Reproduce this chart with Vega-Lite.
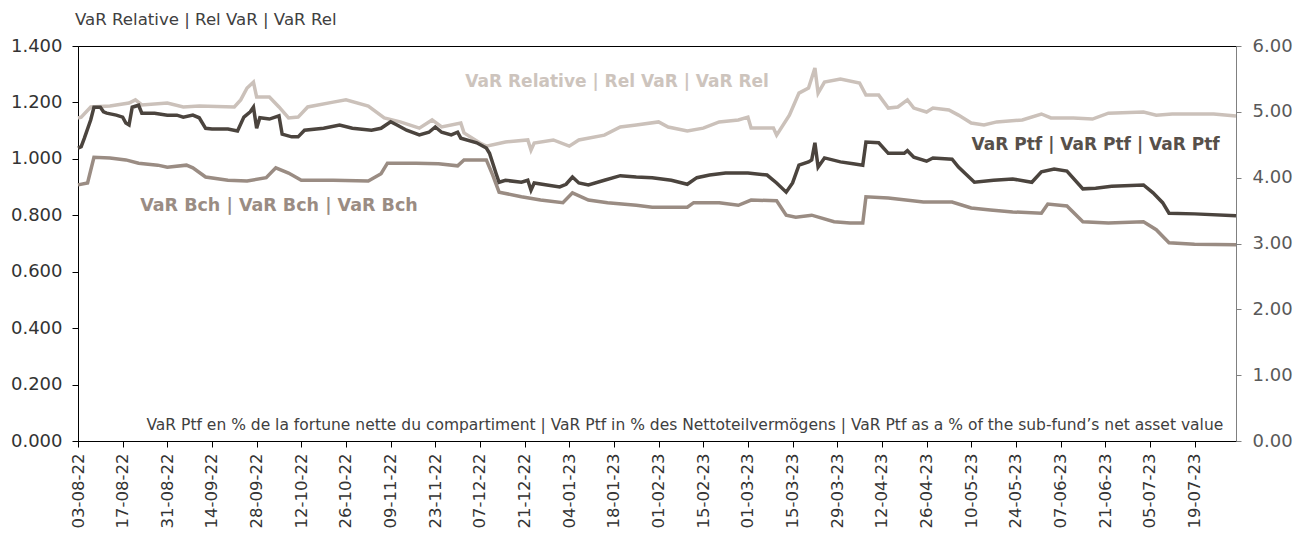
{
  "$schema": "https://vega.github.io/schema/vega-lite/v6.json",
  "width": 1158,
  "height": 395,
  "autosize": "none",
  "padding": {"left": 78, "top": 46, "right": 59, "bottom": 94},
  "background": "#ffffff",
  "title": {"text": "VaR Relative | Rel VaR | VaR Rel", "anchor": "start", "frame": "group", "font": "DejaVu Sans", "fontSize": 16.6, "fontWeight": "normal", "color": "#404040", "offset": 8, "dx": -3},
  "config": {"view": {"stroke": "#000000", "strokeWidth": 1}, "font": "DejaVu Sans", "axis": {"grid": false}},
  "datasets": {
    "ptf": [
      {"date":"2022-08-03","v":4.45},{"date":"2022-08-04","v":4.47},{"date":"2022-08-05","v":4.60},{"date":"2022-08-07","v":4.88},{"date":"2022-08-08","v":5.07},{"date":"2022-08-10","v":5.07},{"date":"2022-08-11","v":5.00},{"date":"2022-08-12","v":4.98},{"date":"2022-08-15","v":4.95},{"date":"2022-08-17","v":4.92},{"date":"2022-08-18","v":4.83},{"date":"2022-08-19","v":4.80},{"date":"2022-08-20","v":5.07},{"date":"2022-08-22","v":5.10},{"date":"2022-08-23","v":4.98},{"date":"2022-08-27","v":4.98},{"date":"2022-08-31","v":4.95},{"date":"2022-09-03","v":4.95},{"date":"2022-09-05","v":4.92},{"date":"2022-09-08","v":4.95},{"date":"2022-09-10","v":4.91},{"date":"2022-09-12","v":4.75},{"date":"2022-09-14","v":4.74},{"date":"2022-09-19","v":4.74},{"date":"2022-09-22","v":4.71},{"date":"2022-09-24","v":4.92},{"date":"2022-09-26","v":5.00},{"date":"2022-09-27","v":5.07},{"date":"2022-09-28","v":4.75},{"date":"2022-09-29","v":4.91},{"date":"2022-10-02","v":4.89},{"date":"2022-10-05","v":4.94},{"date":"2022-10-06","v":4.66},{"date":"2022-10-09","v":4.62},{"date":"2022-10-11","v":4.62},{"date":"2022-10-13","v":4.72},{"date":"2022-10-19","v":4.75},{"date":"2022-10-24","v":4.80},{"date":"2022-10-28","v":4.75},{"date":"2022-11-03","v":4.72},{"date":"2022-11-06","v":4.75},{"date":"2022-11-09","v":4.85},{"date":"2022-11-11","v":4.80},{"date":"2022-11-14","v":4.72},{"date":"2022-11-18","v":4.65},{"date":"2022-11-21","v":4.69},{"date":"2022-11-23","v":4.77},{"date":"2022-11-25","v":4.69},{"date":"2022-11-28","v":4.65},{"date":"2022-11-30","v":4.69},{"date":"2022-12-01","v":4.60},{"date":"2022-12-06","v":4.53},{"date":"2022-12-09","v":4.45},{"date":"2022-12-10","v":4.37},{"date":"2022-12-12","v":4.07},{"date":"2022-12-13","v":3.93},{"date":"2022-12-15","v":3.96},{"date":"2022-12-20","v":3.93},{"date":"2022-12-22","v":3.96},{"date":"2022-12-23","v":3.81},{"date":"2022-12-24","v":3.92},{"date":"2022-12-28","v":3.89},{"date":"2023-01-01","v":3.86},{"date":"2023-01-03","v":3.90},{"date":"2023-01-05","v":4.01},{"date":"2023-01-07","v":3.92},{"date":"2023-01-10","v":3.89},{"date":"2023-01-15","v":3.96},{"date":"2023-01-20","v":4.03},{"date":"2023-01-25","v":4.01},{"date":"2023-01-30","v":4.00},{"date":"2023-02-05","v":3.96},{"date":"2023-02-10","v":3.90},{"date":"2023-02-13","v":4.00},{"date":"2023-02-17","v":4.04},{"date":"2023-02-22","v":4.07},{"date":"2023-03-01","v":4.07},{"date":"2023-03-07","v":4.04},{"date":"2023-03-10","v":3.92},{"date":"2023-03-13","v":3.78},{"date":"2023-03-15","v":3.92},{"date":"2023-03-17","v":4.19},{"date":"2023-03-20","v":4.24},{"date":"2023-03-21","v":4.27},{"date":"2023-03-22","v":4.53},{"date":"2023-03-23","v":4.16},{"date":"2023-03-25","v":4.30},{"date":"2023-03-30","v":4.24},{"date":"2023-04-03","v":4.21},{"date":"2023-04-06","v":4.19},{"date":"2023-04-07","v":4.54},{"date":"2023-04-11","v":4.53},{"date":"2023-04-14","v":4.37},{"date":"2023-04-19","v":4.37},{"date":"2023-04-20","v":4.41},{"date":"2023-04-22","v":4.31},{"date":"2023-04-26","v":4.25},{"date":"2023-04-28","v":4.30},{"date":"2023-05-04","v":4.28},{"date":"2023-05-06","v":4.16},{"date":"2023-05-11","v":3.93},{"date":"2023-05-17","v":3.96},{"date":"2023-05-23","v":3.98},{"date":"2023-05-29","v":3.93},{"date":"2023-06-01","v":4.09},{"date":"2023-06-05","v":4.13},{"date":"2023-06-09","v":4.10},{"date":"2023-06-14","v":3.83},{"date":"2023-06-18","v":3.84},{"date":"2023-06-23","v":3.87},{"date":"2023-07-03","v":3.89},{"date":"2023-07-06","v":3.77},{"date":"2023-07-09","v":3.62},{"date":"2023-07-11","v":3.46},{"date":"2023-07-19","v":3.45},{"date":"2023-08-01","v":3.42}
    ],
    "bch": [
      {"date":"2022-08-03","v":3.89},{"date":"2022-08-06","v":3.92},{"date":"2022-08-08","v":4.31},{"date":"2022-08-13","v":4.30},{"date":"2022-08-18","v":4.27},{"date":"2022-08-22","v":4.22},{"date":"2022-08-28","v":4.19},{"date":"2022-08-31","v":4.16},{"date":"2022-09-06","v":4.19},{"date":"2022-09-08","v":4.15},{"date":"2022-09-12","v":4.01},{"date":"2022-09-19","v":3.96},{"date":"2022-09-25","v":3.95},{"date":"2022-10-01","v":4.00},{"date":"2022-10-04","v":4.15},{"date":"2022-10-08","v":4.07},{"date":"2022-10-12","v":3.96},{"date":"2022-10-22","v":3.96},{"date":"2022-11-02","v":3.95},{"date":"2022-11-06","v":4.06},{"date":"2022-11-08","v":4.22},{"date":"2022-11-17","v":4.22},{"date":"2022-11-24","v":4.21},{"date":"2022-11-30","v":4.18},{"date":"2022-12-02","v":4.27},{"date":"2022-12-09","v":4.27},{"date":"2022-12-11","v":4.04},{"date":"2022-12-13","v":3.78},{"date":"2022-12-20","v":3.71},{"date":"2022-12-26","v":3.66},{"date":"2023-01-02","v":3.62},{"date":"2023-01-05","v":3.77},{"date":"2023-01-10","v":3.66},{"date":"2023-01-16","v":3.62},{"date":"2023-01-25","v":3.58},{"date":"2023-01-30","v":3.55},{"date":"2023-02-10","v":3.55},{"date":"2023-02-12","v":3.62},{"date":"2023-02-20","v":3.62},{"date":"2023-02-26","v":3.58},{"date":"2023-03-02","v":3.66},{"date":"2023-03-10","v":3.65},{"date":"2023-03-13","v":3.43},{"date":"2023-03-16","v":3.40},{"date":"2023-03-21","v":3.43},{"date":"2023-03-28","v":3.33},{"date":"2023-04-02","v":3.31},{"date":"2023-04-06","v":3.31},{"date":"2023-04-07","v":3.71},{"date":"2023-04-14","v":3.69},{"date":"2023-04-25","v":3.63},{"date":"2023-05-04","v":3.63},{"date":"2023-05-10","v":3.54},{"date":"2023-05-16","v":3.51},{"date":"2023-05-23","v":3.48},{"date":"2023-06-01","v":3.46},{"date":"2023-06-03","v":3.60},{"date":"2023-06-09","v":3.57},{"date":"2023-06-14","v":3.33},{"date":"2023-06-22","v":3.31},{"date":"2023-07-03","v":3.33},{"date":"2023-07-07","v":3.21},{"date":"2023-07-11","v":3.01},{"date":"2023-07-19","v":2.99},{"date":"2023-08-01","v":2.98}
    ],
    "rel": [
      {"date":"2022-08-03","v":1.145},{"date":"2022-08-04","v":1.148},{"date":"2022-08-07","v":1.184},{"date":"2022-08-13","v":1.187},{"date":"2022-08-19","v":1.198},{"date":"2022-08-21","v":1.209},{"date":"2022-08-23","v":1.191},{"date":"2022-08-31","v":1.198},{"date":"2022-09-05","v":1.184},{"date":"2022-09-10","v":1.187},{"date":"2022-09-21","v":1.184},{"date":"2022-09-23","v":1.209},{"date":"2022-09-25","v":1.251},{"date":"2022-09-27","v":1.272},{"date":"2022-09-28","v":1.219},{"date":"2022-10-02","v":1.219},{"date":"2022-10-05","v":1.184},{"date":"2022-10-08","v":1.145},{"date":"2022-10-11","v":1.148},{"date":"2022-10-14","v":1.184},{"date":"2022-10-22","v":1.201},{"date":"2022-10-26","v":1.209},{"date":"2022-11-02","v":1.187},{"date":"2022-11-07","v":1.145},{"date":"2022-11-12","v":1.131},{"date":"2022-11-18","v":1.109},{"date":"2022-11-22","v":1.138},{"date":"2022-11-25","v":1.113},{"date":"2022-12-01","v":1.127},{"date":"2022-12-02","v":1.092},{"date":"2022-12-07","v":1.056},{"date":"2022-12-09","v":1.045},{"date":"2022-12-15","v":1.060},{"date":"2022-12-22","v":1.067},{"date":"2022-12-23","v":1.031},{"date":"2022-12-24","v":1.056},{"date":"2022-12-30","v":1.067},{"date":"2023-01-04","v":1.045},{"date":"2023-01-07","v":1.067},{"date":"2023-01-15","v":1.084},{"date":"2023-01-20","v":1.113},{"date":"2023-01-25","v":1.120},{"date":"2023-02-01","v":1.131},{"date":"2023-02-04","v":1.113},{"date":"2023-02-10","v":1.099},{"date":"2023-02-15","v":1.109},{"date":"2023-02-20","v":1.131},{"date":"2023-02-26","v":1.138},{"date":"2023-03-01","v":1.148},{"date":"2023-03-02","v":1.109},{"date":"2023-03-09","v":1.109},{"date":"2023-03-10","v":1.084},{"date":"2023-03-14","v":1.155},{"date":"2023-03-17","v":1.233},{"date":"2023-03-20","v":1.251},{"date":"2023-03-22","v":1.322},{"date":"2023-03-23","v":1.233},{"date":"2023-03-25","v":1.272},{"date":"2023-03-30","v":1.283},{"date":"2023-04-05","v":1.269},{"date":"2023-04-07","v":1.226},{"date":"2023-04-11","v":1.226},{"date":"2023-04-14","v":1.180},{"date":"2023-04-17","v":1.184},{"date":"2023-04-20","v":1.209},{"date":"2023-04-22","v":1.180},{"date":"2023-04-26","v":1.166},{"date":"2023-04-28","v":1.180},{"date":"2023-05-03","v":1.173},{"date":"2023-05-06","v":1.155},{"date":"2023-05-10","v":1.127},{"date":"2023-05-14","v":1.120},{"date":"2023-05-18","v":1.131},{"date":"2023-05-26","v":1.138},{"date":"2023-06-01","v":1.159},{"date":"2023-06-04","v":1.145},{"date":"2023-06-11","v":1.145},{"date":"2023-06-17","v":1.141},{"date":"2023-06-22","v":1.162},{"date":"2023-07-03","v":1.166},{"date":"2023-07-07","v":1.155},{"date":"2023-07-12","v":1.159},{"date":"2023-07-25","v":1.159},{"date":"2023-08-01","v":1.152}
    ]
  },
  "encoding": {
    "x": {
      "field": "date", "type": "temporal",
      "scale": {"domain": [{"year": 2022, "month": 8, "date": 3, "utc": true}, {"year": 2023, "month": 8, "date": 1, "utc": true}]},
      "axis": {
        "title": null, "labelExpr": "utcFormat(datum.value, '%d-%m-%y')", "labelAngle": -90,
        "values": [
          {"year":2022,"month":8,"date":3,"utc":true},{"year":2022,"month":8,"date":17,"utc":true},{"year":2022,"month":8,"date":31,"utc":true},{"year":2022,"month":9,"date":14,"utc":true},{"year":2022,"month":9,"date":28,"utc":true},{"year":2022,"month":10,"date":12,"utc":true},{"year":2022,"month":10,"date":26,"utc":true},{"year":2022,"month":11,"date":9,"utc":true},{"year":2022,"month":11,"date":23,"utc":true},{"year":2022,"month":12,"date":7,"utc":true},{"year":2022,"month":12,"date":21,"utc":true},{"year":2023,"month":1,"date":4,"utc":true},{"year":2023,"month":1,"date":18,"utc":true},{"year":2023,"month":2,"date":1,"utc":true},{"year":2023,"month":2,"date":15,"utc":true},{"year":2023,"month":3,"date":1,"utc":true},{"year":2023,"month":3,"date":15,"utc":true},{"year":2023,"month":3,"date":29,"utc":true},{"year":2023,"month":4,"date":12,"utc":true},{"year":2023,"month":4,"date":26,"utc":true},{"year":2023,"month":5,"date":10,"utc":true},{"year":2023,"month":5,"date":24,"utc":true},{"year":2023,"month":6,"date":7,"utc":true},{"year":2023,"month":6,"date":21,"utc":true},{"year":2023,"month":7,"date":5,"utc":true},{"year":2023,"month":7,"date":19,"utc":true}
        ],
        "labelFont": "DejaVu Sans", "labelFontSize": 16.5, "labelColor": "#333333", "labelPadding": 6,
        "labelOverlap": false, "labelBound": false, "labelFlush": false,
        "domainColor": "#000000", "tickColor": "#000000", "tickSize": 6
      }
    }
  },
  "layer": [
    {
      "data": {"name": "rel"},
      "mark": {"type": "line", "color": "#cbc1ba", "strokeWidth": 3.5},
      "encoding": {
        "y": {"field": "v", "type": "quantitative", "scale": {"domain": [0, 1.4], "nice": false},
          "axis": {"orient": "left", "title": null, "values": [0, 0.2, 0.4, 0.6, 0.8, 1.0, 1.2, 1.4], "format": ".3f",
            "labelFont": "DejaVu Sans", "labelFontSize": 18, "labelColor": "#333333", "labelPadding": 10,
            "domainColor": "#000000", "tickColor": "#000000", "tickSize": 6}}
      }
    },
    {
      "data": {"name": "bch"},
      "mark": {"type": "line", "color": "#9a8c83", "strokeWidth": 3.5},
      "encoding": {
        "y": {"field": "v", "type": "quantitative", "scale": {"domain": [0, 6], "nice": false}, "axis": null}
      }
    },
    {
      "data": {"name": "ptf"},
      "mark": {"type": "line", "color": "#4b443e", "strokeWidth": 3.5},
      "encoding": {
        "y": {"field": "v", "type": "quantitative", "scale": {"domain": [0, 6], "nice": false},
          "axis": {"orient": "right", "title": null, "values": [0, 1, 2, 3, 4, 5, 6], "format": ".2f",
            "labelFont": "DejaVu Sans", "labelFontSize": 18, "labelColor": "#595959", "labelPadding": 11,
            "domainColor": "#808080", "tickColor": "#808080", "tickSize": 5}}
      }
    },
    {
      "data": {"values": [{"date": "2023-01-19", "v": 1.274, "t": "VaR Relative | Rel VaR | VaR Rel"}]},
      "mark": {"type": "text", "font": "DejaVu Sans", "fontWeight": "bold", "fontSize": 17, "color": "#cdc4bd", "align": "center", "baseline": "middle"},
      "encoding": {
        "y": {"field": "v", "type": "quantitative", "scale": {"domain": [0, 1.4], "nice": false}, "axis": null},
        "text": {"field": "t"}
      }
    },
    {
      "data": {"values": [{"date": "2023-07-28", "v": 0.039, "t": "VaR Ptf en % de la fortune nette du compartiment | VaR Ptf in % des Nettoteilvermögens | VaR Ptf as a % of the sub-fund’s net asset value"}]},
      "mark": {"type": "text", "font": "DejaVu Sans", "fontSize": 15.5, "color": "#404040", "align": "right", "baseline": "alphabetic"},
      "encoding": {
        "y": {"field": "v", "type": "quantitative", "scale": {"domain": [0, 1.4], "nice": false}, "axis": null},
        "text": {"field": "t"}
      }
    },
    {
      "data": {"values": [{"date": "2023-06-18", "v": 4.50, "t": "VaR Ptf | VaR Ptf | VaR Ptf"}]},
      "mark": {"type": "text", "font": "DejaVu Sans", "fontWeight": "bold", "fontSize": 17, "color": "#57504a", "align": "center", "baseline": "middle"},
      "encoding": {
        "y": {"field": "v", "type": "quantitative", "scale": {"domain": [0, 6], "nice": false}, "axis": null},
        "text": {"field": "t"}
      }
    },
    {
      "data": {"values": [{"date": "2022-10-05", "v": 3.57, "t": "VaR Bch | VaR Bch | VaR Bch"}]},
      "mark": {"type": "text", "font": "DejaVu Sans", "fontWeight": "bold", "fontSize": 17.5, "color": "#9a8c83", "align": "center", "baseline": "middle"},
      "encoding": {
        "y": {"field": "v", "type": "quantitative", "scale": {"domain": [0, 6], "nice": false}, "axis": null},
        "text": {"field": "t"}
      }
    }
  ],
  "resolve": {"scale": {"y": "independent"}, "axis": {"y": "independent"}}
}
